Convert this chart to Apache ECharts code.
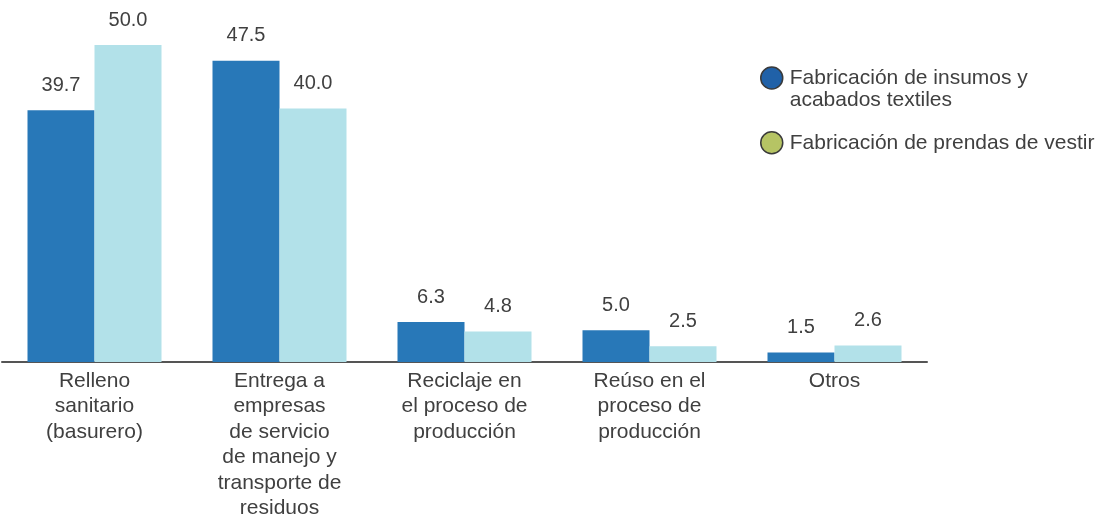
<!DOCTYPE html>
<html>
<head>
<meta charset="utf-8">
<script src="https://cdn.jsdelivr.net/npm/echarts@6/dist/echarts.min.js"></script>
<style>
html,body{margin:0;padding:0;background:#fff;}
#c{width:1106px;height:521px;}
</style>
</head>
<body>
<div id="c"></div>
<script>
const categories = [
  "Relleno\nsanitario\n(basurero)",
  "Entrega a\nempresas\nde servicio\nde manejo y\ntransporte de\nresiduos",
  "Reciclaje en\nel proceso de\nproducción",
  "Reúso en el\nproceso de\nproducción",
  "Otros"
];
const seriesNames = ["Fabricación de insumos y acabados textiles", "Fabricación de prendas de vestir"];
const insumos = [39.7, 47.5, 6.3, 5.0, 1.5];
const prendas = [50.0, 40.0, 4.8, 2.5, 2.6];

const textColor = '#404040';
const font = 'Liberation Sans, Arial, sans-serif';

const chart = echarts.init(document.getElementById('c'));
const labelCfg = {
  show: true,
  position: 'top',
  distance: 15,
  color: textColor,
  fontFamily: font,
  fontSize: 20,
  formatter: p => p.value.toFixed(1)
};
chart.setOption({
  animation: false,
  textStyle: {fontFamily: font},
  grid: {left: 2, right: 179, top: 45, bottom: 155, containLabel: false},
  legend: {
    orient: 'vertical',
    left: 755,
    top: 40,
    icon: 'circle',
    itemWidth: 26,
    itemHeight: 22,
    itemGap: 20,
    selectedMode: false,
    textStyle: {color: textColor, fontFamily: font, fontSize: 21, lineHeight: 22},
    formatter: function (name) {
      if (name === seriesNames[0]) return '\nFabricación de insumos y\nacabados textiles';
      return name;
    },
    data: [
      {name: seriesNames[0], itemStyle: {color: '#2061a8', borderColor: '#3a3a3a', borderWidth: 1.5}},
      {name: seriesNames[1], itemStyle: {color: '#b6c464', borderColor: '#3a3a3a', borderWidth: 1.5}}
    ]
  },
  xAxis: {
    type: 'category',
    data: categories,
    axisLine: {lineStyle: {color: '#555555', width: 2}},
    axisTick: {show: false},
    axisLabel: {color: textColor, fontFamily: font, fontSize: 21, lineHeight: 25.5, margin: 6, interval: 0}
  },
  yAxis: {type: 'value', min: 0, max: 50, show: false, splitLine: {show: false}},
  series: [
    {
      name: seriesNames[0], type: 'bar', data: insumos,
      barWidth: 67, barGap: '0%',
      itemStyle: {color: '#2878b8'},
      label: labelCfg
    },
    {
      name: seriesNames[1], type: 'bar', data: prendas,
      barWidth: 67, barGap: '0%',
      itemStyle: {color: '#b2e1e9'},
      label: labelCfg
    }
  ]
});
</script>
</body>
</html>
